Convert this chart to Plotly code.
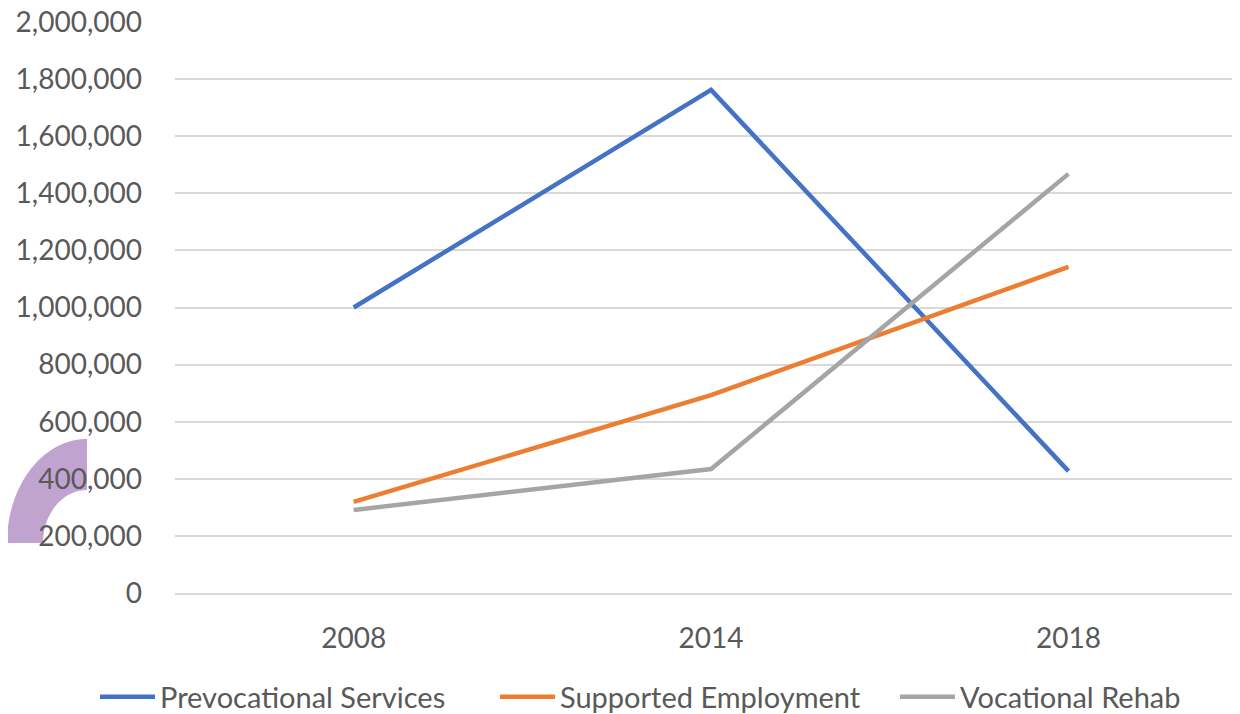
import numpy as np
import plotly.graph_objects as go

years = ["2008", "2014", "2018"]
prevocational = [1000000, 1762000, 427000]
supported = [319000, 693000, 1142000]
vocational = [291000, 434000, 1468000]
series_names = ["Prevocational Services", "Supported Employment", "Vocational Rehab"]
colors = ["#4472C4", "#ED7D31", "#A5A5A5"]

OFF = 8  # page body margin
W, H = 1240 - OFF, 714 - OFF
L, T = 175 - OFF, 22 - OFF
R = 0
B = H - (593 - OFF)
PW, PH = W - L - R, H - T - B

FONT = "Lato"
TXT = "#595959"

fig = go.Figure()
for name, vals, c in zip(series_names, [prevocational, supported, vocational], colors):
    fig.add_trace(go.Scatter(x=years, y=vals, mode="lines", name=name,
                             line=dict(color=c, width=4.5)))

# decorative block arc (screen-pixel geometry converted to paper coords)
def px2paper(px, py):
    return (px - OFF - L) / PW, (593 - py) / PH

cx, cy = 87, 543
ro_x, ro_y, ri_x, ri_y = 80, 104, 44, 53
th = np.linspace(np.pi / 2, np.pi, 40)
outer = [px2paper(cx + ro_x * np.cos(t), cy - ro_y * np.sin(t)) for t in th]
inner = [px2paper(cx + ri_x * np.cos(t), cy - ri_y * np.sin(t)) for t in th[::-1]]
pts = outer + inner
path = "M " + " L ".join(f"{x:.5f},{y:.5f}" for x, y in pts) + " Z"
fig.add_shape(type="path", path=path, xref="paper", yref="paper",
              fillcolor="rgb(193,163,208)", line=dict(width=0), layer="below")

fig.update_layout(
    width=W, height=H,
    margin=dict(l=L, r=R, t=T, b=B, pad=0, autoexpand=False),
    plot_bgcolor="white", paper_bgcolor="white",
    font=dict(family=FONT, size=28, color=TXT),
    showlegend=True,
    legend=dict(orientation="h", x=(95 - OFF - L) / PW, xanchor="left",
                y=(593 - 697) / PH, yanchor="middle", font=dict(size=29, color=TXT),
                entrywidth=330, itemwidth=55, tracegroupgap=0),
)
fig.update_xaxes(type="category", range=[-0.5, 2.48], showgrid=False,
                 showline=True, linecolor="#D9D9D9", linewidth=1.5,
                 ticks="", ticklabelstandoff=20, tickfont=dict(size=28, color=TXT))
fig.update_yaxes(range=[0, 2000000], tickvals=[i * 200000 for i in range(11)],
                 tickformat=",d", ticklabeloverflow="allow",
                 showgrid=True, gridcolor="#D9D9D9", gridwidth=1.5,
                 zeroline=False, showline=False, ticks="",
                 ticklabelstandoff=32, tickfont=dict(size=28, color=TXT))

fig.write_html("out.html")
